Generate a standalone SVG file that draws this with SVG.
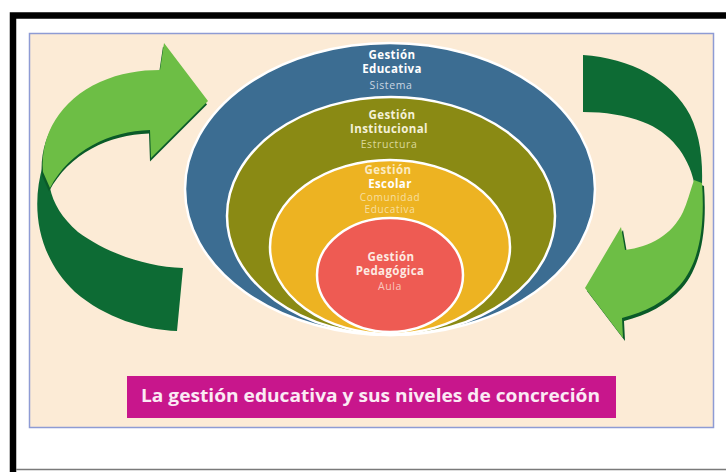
<svg xmlns="http://www.w3.org/2000/svg" width="726" height="472" viewBox="0 0 726 472">
<style>
  .t { font-family: "Open Sans", "Liberation Sans", sans-serif; text-anchor: middle; }
  .b { font-weight: bold; font-size: 11.5px; letter-spacing: 0.4px; }
  .r { font-size: 10.5px; letter-spacing: 0.6px; }
  .s { font-size: 10px; letter-spacing: 0.7px; }
  .ring { stroke: #ffffff; stroke-width: 2.5; }
  .lg { fill: #6DBE45; }
  .dg { fill: #0D6B34; }
  .sh { fill: #0A5A28; }
</style>
<rect x="0" y="0" width="726" height="472" fill="#ffffff"/>
<!-- outer frame -->
<path d="M 13,472 L 13,15.5 L 726,15.5" fill="none" stroke="#000000" stroke-width="6.5"/>
<line x1="16" y1="469.5" x2="726" y2="469.5" stroke="#7a7a7a" stroke-width="1.5"/>
<!-- panel -->
<rect x="29.5" y="33.5" width="684" height="394" fill="#FCEBD6" stroke="#8E9BD4" stroke-width="1.5"/>

<g id="connectors">
  <g id="arrow-left">
    <path class="dg" d="M 43,165 C 31,205 36,255 75,292 C 105,318 145,330 177,331 L 183,268 C 145,267 105,252 78,232 C 62,218 53,203 50,188 Z"/>
    <path class="sh" transform="translate(-1,3.5)" d="M 43,172 C 40,135 60,100 100,82 C 120,73 140,70 160,70 L 164,43 L 208,101 L 151,158 L 150,130 C 110,131 70,150 50,188 Z"/>
    <path class="lg" d="M 43,172 C 40,135 60,100 100,82 C 120,73 140,70 160,70 L 164,43 L 208,101 L 151,158 L 150,130 C 110,131 70,150 50,188 Z"/>
  </g>
  <g id="arrow-right">
    <path class="dg" d="M 583,55 C 630,58 672,80 690,115 C 700,135 703,160 702,186 L 694,182 C 688,155 670,132 643,122 C 625,115 605,112 583,112 Z"/>
    <path class="sh" transform="translate(2,3)" d="M 694,180 L 702,183 C 705,225 700,262 680,285 C 665,302 645,312 622,318 L 623,338 L 585,288 L 621,227 L 625,250 C 650,247 672,235 683,212 C 687,203 690,192 694,180 Z"/>
    <path class="lg" d="M 694,180 L 702,183 C 705,225 700,262 680,285 C 665,302 645,312 622,318 L 623,338 L 585,288 L 621,227 L 625,250 C 650,247 672,235 683,212 C 687,203 690,192 694,180 Z"/>
  </g>
</g>

<g id="gestion-educativa">
  <ellipse class="ring" cx="390" cy="189" rx="205" ry="146" fill="#3C6D92"/>
  <text class="t b" x="392" y="59" fill="#ffffff">Gestión</text>
  <text class="t b" x="392" y="73" fill="#ffffff">Educativa</text>
  <text class="t r" x="391" y="89" fill="#C9D6E2">Sistema</text>
</g>
<g id="gestion-institucional">
  <ellipse class="ring" cx="391" cy="216" rx="164" ry="119" fill="#8A8A14"/>
  <text class="t b" x="392" y="119" fill="#F4F1D8">Gestión</text>
  <text class="t b" x="389" y="133" fill="#F4F1D8">Institucional</text>
  <text class="t r" x="389" y="148" fill="#DCD99A">Estructura</text>
</g>
<g id="gestion-escolar">
  <ellipse class="ring" cx="390" cy="247" rx="120" ry="87" fill="#EDB322"/>
  <text class="t b" x="388" y="174" fill="#FBEBC2">Gestión</text>
  <text class="t b" x="390" y="187.5" fill="#ffffff">Escolar</text>
  <text class="t s" x="390" y="200.5" fill="#F8DFA0">Comunidad</text>
  <text class="t s" x="390" y="213" fill="#F8DFA0">Educativa</text>
</g>
<g id="gestion-pedagogica">
  <ellipse class="ring" cx="390" cy="275" rx="73" ry="57" fill="#EE5B53"/>
  <text class="t b" x="391" y="260.5" fill="#FDEAE2">Gestión</text>
  <text class="t b" x="390" y="275" fill="#FDEAE2">Pedagógica</text>
  <text class="t r" x="390" y="290" fill="#F9C6BE">Aula</text>
</g>

<g id="titulo">
  <rect x="127" y="376" width="489" height="42" fill="#C8168C"/>
  <text x="141" y="402" font-family="Open Sans, Liberation Sans, sans-serif" font-weight="bold" font-size="17" fill="#FBEAF4" textLength="459" lengthAdjust="spacingAndGlyphs">La gestión educativa y sus niveles de concreción</text>
</g>
</svg>
